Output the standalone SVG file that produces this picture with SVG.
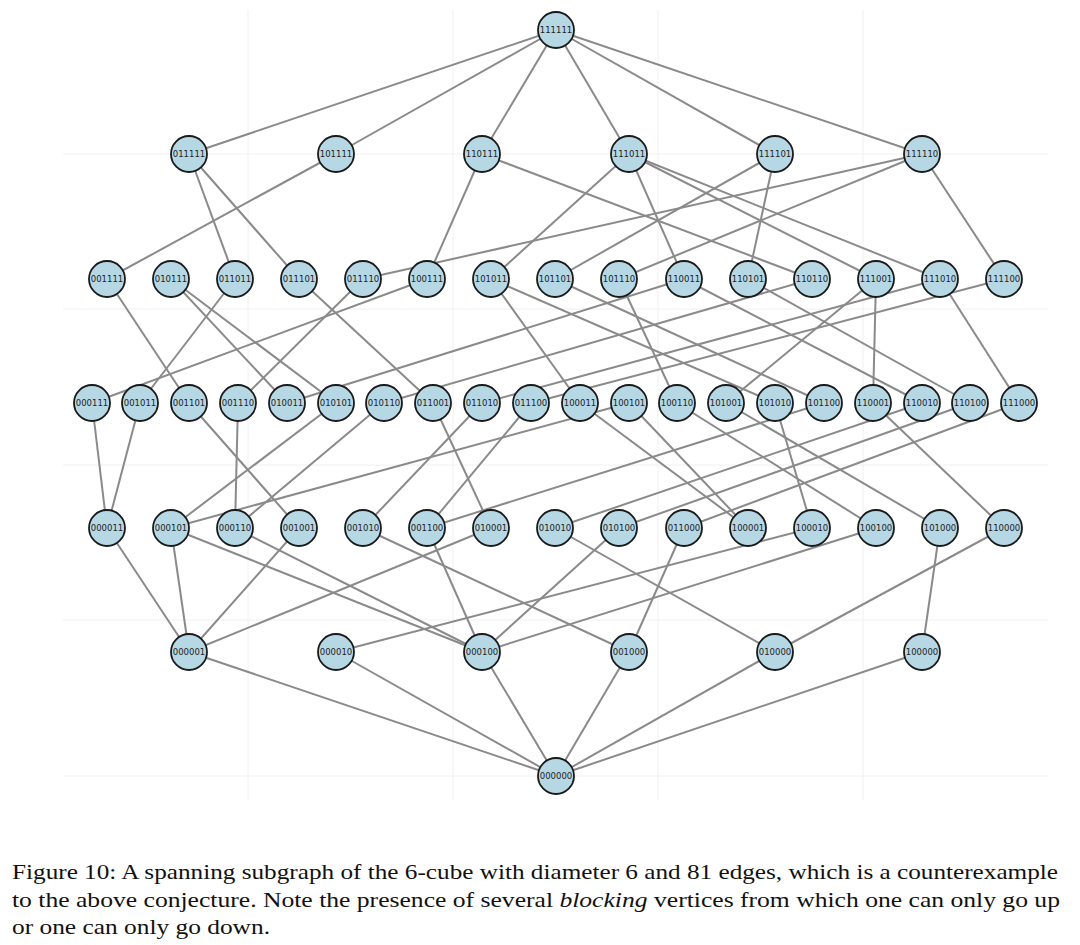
<svg xmlns="http://www.w3.org/2000/svg" width="1080" height="945" viewBox="0 0 1080 945">
<style>
.g{stroke:#f0f0f0;stroke-width:1}
.e line{stroke:#8a8a8a;stroke-width:2}
.n circle{fill:#b6d7e4;stroke:#1a1a1a;stroke-width:1.8}
.n text{font-family:"DejaVu Sans",sans-serif;font-size:8.5px;fill:#222;text-anchor:middle;dominant-baseline:central}
.cap{font-family:"Liberation Serif",serif;font-size:21px;fill:#111}
</style>
<rect width="1080" height="945" fill="#fff"/>
<g id="grid">
<line class="g" x1="63" y1="154" x2="1048" y2="154"/>
<line class="g" x1="63" y1="309" x2="1048" y2="309"/>
<line class="g" x1="63" y1="465" x2="1048" y2="465"/>
<line class="g" x1="63" y1="620" x2="1048" y2="620"/>
<line class="g" x1="63" y1="776" x2="1048" y2="776"/>
<line class="g" x1="248" y1="10" x2="248" y2="800"/>
<line class="g" x1="453" y1="10" x2="453" y2="800"/>
<line class="g" x1="658" y1="10" x2="658" y2="800"/>
<line class="g" x1="863" y1="10" x2="863" y2="800"/>
</g>
<g id="edges" class="e">
<line x1="556" y1="30" x2="189" y2="154"/><line x1="556" y1="30" x2="336" y2="154"/><line x1="556" y1="30" x2="482" y2="154"/><line x1="556" y1="30" x2="629" y2="154"/><line x1="556" y1="30" x2="775" y2="154"/><line x1="556" y1="30" x2="922" y2="154"/>
<line x1="189" y1="154" x2="235" y2="279"/><line x1="189" y1="154" x2="299" y2="279"/>
<line x1="336" y1="154" x2="107" y2="279"/>
<line x1="482" y1="154" x2="427" y2="279"/><line x1="482" y1="154" x2="812" y2="279"/>
<line x1="629" y1="154" x2="491" y2="279"/><line x1="629" y1="154" x2="684" y2="279"/><line x1="629" y1="154" x2="876" y2="279"/><line x1="629" y1="154" x2="940" y2="279"/>
<line x1="775" y1="154" x2="555" y2="279"/><line x1="775" y1="154" x2="748" y2="279"/>
<line x1="922" y1="154" x2="363" y2="279"/><line x1="922" y1="154" x2="619" y2="279"/><line x1="922" y1="154" x2="1004" y2="279"/>
<line x1="107" y1="279" x2="189" y2="403"/><line x1="171" y1="279" x2="287" y2="403"/><line x1="171" y1="279" x2="336" y2="403"/><line x1="235" y1="279" x2="140" y2="403"/><line x1="299" y1="279" x2="433" y2="403"/><line x1="363" y1="279" x2="238" y2="403"/><line x1="427" y1="279" x2="92" y2="403"/><line x1="491" y1="279" x2="580" y2="403"/><line x1="491" y1="279" x2="775" y2="403"/><line x1="555" y1="279" x2="824" y2="403"/><line x1="619" y1="279" x2="677" y2="403"/><line x1="684" y1="279" x2="287" y2="403"/><line x1="684" y1="279" x2="922" y2="403"/><line x1="748" y1="279" x2="970" y2="403"/><line x1="812" y1="279" x2="384" y2="403"/><line x1="876" y1="279" x2="873" y2="403"/><line x1="876" y1="279" x2="726" y2="403"/><line x1="940" y1="279" x2="482" y2="403"/><line x1="940" y1="279" x2="1019" y2="403"/><line x1="1004" y1="279" x2="531" y2="403"/>
<line x1="92" y1="403" x2="107" y2="528"/><line x1="140" y1="403" x2="107" y2="528"/><line x1="189" y1="403" x2="299" y2="528"/><line x1="238" y1="403" x2="235" y2="528"/><line x1="336" y1="403" x2="171" y2="528"/><line x1="384" y1="403" x2="235" y2="528"/><line x1="433" y1="403" x2="491" y2="528"/><line x1="482" y1="403" x2="363" y2="528"/><line x1="531" y1="403" x2="427" y2="528"/><line x1="629" y1="403" x2="171" y2="528"/><line x1="629" y1="403" x2="748" y2="528"/><line x1="824" y1="403" x2="427" y2="528"/><line x1="922" y1="403" x2="555" y2="528"/><line x1="970" y1="403" x2="619" y2="528"/><line x1="1019" y1="403" x2="684" y2="528"/><line x1="580" y1="403" x2="748" y2="528"/><line x1="677" y1="403" x2="876" y2="528"/><line x1="726" y1="403" x2="940" y2="528"/><line x1="775" y1="403" x2="812" y2="528"/><line x1="873" y1="403" x2="1004" y2="528"/>
<line x1="107" y1="528" x2="189" y2="652"/><line x1="171" y1="528" x2="189" y2="652"/><line x1="171" y1="528" x2="482" y2="652"/><line x1="235" y1="528" x2="482" y2="652"/><line x1="299" y1="528" x2="189" y2="652"/><line x1="363" y1="528" x2="629" y2="652"/><line x1="427" y1="528" x2="482" y2="652"/><line x1="491" y1="528" x2="189" y2="652"/><line x1="619" y1="528" x2="482" y2="652"/><line x1="555" y1="528" x2="775" y2="652"/><line x1="684" y1="528" x2="629" y2="652"/><line x1="812" y1="528" x2="336" y2="652"/><line x1="876" y1="528" x2="482" y2="652"/><line x1="940" y1="528" x2="922" y2="652"/><line x1="1004" y1="528" x2="775" y2="652"/>
<line x1="189" y1="652" x2="556" y2="776"/><line x1="336" y1="652" x2="556" y2="776"/><line x1="482" y1="652" x2="556" y2="776"/><line x1="629" y1="652" x2="556" y2="776"/><line x1="775" y1="652" x2="556" y2="776"/><line x1="922" y1="652" x2="556" y2="776"/>
</g>
<g class="n">
<g id="n111111"><circle cx="556" cy="30" r="18"/><text x="556" y="30">111111</text></g>
<g id="n011111"><circle cx="189" cy="154" r="18"/><text x="189" y="154">011111</text></g>
<g id="n101111"><circle cx="336" cy="154" r="18"/><text x="336" y="154">101111</text></g>
<g id="n110111"><circle cx="482" cy="154" r="18"/><text x="482" y="154">110111</text></g>
<g id="n111011"><circle cx="629" cy="154" r="18"/><text x="629" y="154">111011</text></g>
<g id="n111101"><circle cx="775" cy="154" r="18"/><text x="775" y="154">111101</text></g>
<g id="n111110"><circle cx="922" cy="154" r="18"/><text x="922" y="154">111110</text></g>
<g id="n001111"><circle cx="107" cy="279" r="18"/><text x="107" y="279">001111</text></g>
<g id="n010111"><circle cx="171" cy="279" r="18"/><text x="171" y="279">010111</text></g>
<g id="n011011"><circle cx="235" cy="279" r="18"/><text x="235" y="279">011011</text></g>
<g id="n011101"><circle cx="299" cy="279" r="18"/><text x="299" y="279">011101</text></g>
<g id="n011110"><circle cx="363" cy="279" r="18"/><text x="363" y="279">011110</text></g>
<g id="n100111"><circle cx="427" cy="279" r="18"/><text x="427" y="279">100111</text></g>
<g id="n101011"><circle cx="491" cy="279" r="18"/><text x="491" y="279">101011</text></g>
<g id="n101101"><circle cx="555" cy="279" r="18"/><text x="555" y="279">101101</text></g>
<g id="n101110"><circle cx="619" cy="279" r="18"/><text x="619" y="279">101110</text></g>
<g id="n110011"><circle cx="684" cy="279" r="18"/><text x="684" y="279">110011</text></g>
<g id="n110101"><circle cx="748" cy="279" r="18"/><text x="748" y="279">110101</text></g>
<g id="n110110"><circle cx="812" cy="279" r="18"/><text x="812" y="279">110110</text></g>
<g id="n111001"><circle cx="876" cy="279" r="18"/><text x="876" y="279">111001</text></g>
<g id="n111010"><circle cx="940" cy="279" r="18"/><text x="940" y="279">111010</text></g>
<g id="n111100"><circle cx="1004" cy="279" r="18"/><text x="1004" y="279">111100</text></g>
<g id="n000111"><circle cx="92" cy="403" r="18"/><text x="92" y="403">000111</text></g>
<g id="n001011"><circle cx="140" cy="403" r="18"/><text x="140" y="403">001011</text></g>
<g id="n001101"><circle cx="189" cy="403" r="18"/><text x="189" y="403">001101</text></g>
<g id="n001110"><circle cx="238" cy="403" r="18"/><text x="238" y="403">001110</text></g>
<g id="n010011"><circle cx="287" cy="403" r="18"/><text x="287" y="403">010011</text></g>
<g id="n010101"><circle cx="336" cy="403" r="18"/><text x="336" y="403">010101</text></g>
<g id="n010110"><circle cx="384" cy="403" r="18"/><text x="384" y="403">010110</text></g>
<g id="n011001"><circle cx="433" cy="403" r="18"/><text x="433" y="403">011001</text></g>
<g id="n011010"><circle cx="482" cy="403" r="18"/><text x="482" y="403">011010</text></g>
<g id="n011100"><circle cx="531" cy="403" r="18"/><text x="531" y="403">011100</text></g>
<g id="n100011"><circle cx="580" cy="403" r="18"/><text x="580" y="403">100011</text></g>
<g id="n100101"><circle cx="629" cy="403" r="18"/><text x="629" y="403">100101</text></g>
<g id="n100110"><circle cx="677" cy="403" r="18"/><text x="677" y="403">100110</text></g>
<g id="n101001"><circle cx="726" cy="403" r="18"/><text x="726" y="403">101001</text></g>
<g id="n101010"><circle cx="775" cy="403" r="18"/><text x="775" y="403">101010</text></g>
<g id="n101100"><circle cx="824" cy="403" r="18"/><text x="824" y="403">101100</text></g>
<g id="n110001"><circle cx="873" cy="403" r="18"/><text x="873" y="403">110001</text></g>
<g id="n110010"><circle cx="922" cy="403" r="18"/><text x="922" y="403">110010</text></g>
<g id="n110100"><circle cx="970" cy="403" r="18"/><text x="970" y="403">110100</text></g>
<g id="n111000"><circle cx="1019" cy="403" r="18"/><text x="1019" y="403">111000</text></g>
<g id="n000011"><circle cx="107" cy="528" r="18"/><text x="107" y="528">000011</text></g>
<g id="n000101"><circle cx="171" cy="528" r="18"/><text x="171" y="528">000101</text></g>
<g id="n000110"><circle cx="235" cy="528" r="18"/><text x="235" y="528">000110</text></g>
<g id="n001001"><circle cx="299" cy="528" r="18"/><text x="299" y="528">001001</text></g>
<g id="n001010"><circle cx="363" cy="528" r="18"/><text x="363" y="528">001010</text></g>
<g id="n001100"><circle cx="427" cy="528" r="18"/><text x="427" y="528">001100</text></g>
<g id="n010001"><circle cx="491" cy="528" r="18"/><text x="491" y="528">010001</text></g>
<g id="n010010"><circle cx="555" cy="528" r="18"/><text x="555" y="528">010010</text></g>
<g id="n010100"><circle cx="619" cy="528" r="18"/><text x="619" y="528">010100</text></g>
<g id="n011000"><circle cx="684" cy="528" r="18"/><text x="684" y="528">011000</text></g>
<g id="n100001"><circle cx="748" cy="528" r="18"/><text x="748" y="528">100001</text></g>
<g id="n100010"><circle cx="812" cy="528" r="18"/><text x="812" y="528">100010</text></g>
<g id="n100100"><circle cx="876" cy="528" r="18"/><text x="876" y="528">100100</text></g>
<g id="n101000"><circle cx="940" cy="528" r="18"/><text x="940" y="528">101000</text></g>
<g id="n110000"><circle cx="1004" cy="528" r="18"/><text x="1004" y="528">110000</text></g>
<g id="n000001"><circle cx="189" cy="652" r="18"/><text x="189" y="652">000001</text></g>
<g id="n000010"><circle cx="336" cy="652" r="18"/><text x="336" y="652">000010</text></g>
<g id="n000100"><circle cx="482" cy="652" r="18"/><text x="482" y="652">000100</text></g>
<g id="n001000"><circle cx="629" cy="652" r="18"/><text x="629" y="652">001000</text></g>
<g id="n010000"><circle cx="775" cy="652" r="18"/><text x="775" y="652">010000</text></g>
<g id="n100000"><circle cx="922" cy="652" r="18"/><text x="922" y="652">100000</text></g>
<g id="n000000"><circle cx="556" cy="776" r="18"/><text x="556" y="776">000000</text></g>
</g>
<g id="caption">
<text class="cap" x="12" y="879" textLength="1046" lengthAdjust="spacingAndGlyphs">Figure 10: A spanning subgraph of the 6-cube with diameter 6 and 81 edges, which is a counterexample</text>
<text class="cap" x="12" y="907" textLength="1048" lengthAdjust="spacingAndGlyphs">to the above conjecture. Note the presence of several <tspan font-style="italic">blocking</tspan> vertices from which one can only go up</text>
<text class="cap" x="12" y="934" textLength="258" lengthAdjust="spacingAndGlyphs">or one can only go down.</text>
</g>
</svg>
